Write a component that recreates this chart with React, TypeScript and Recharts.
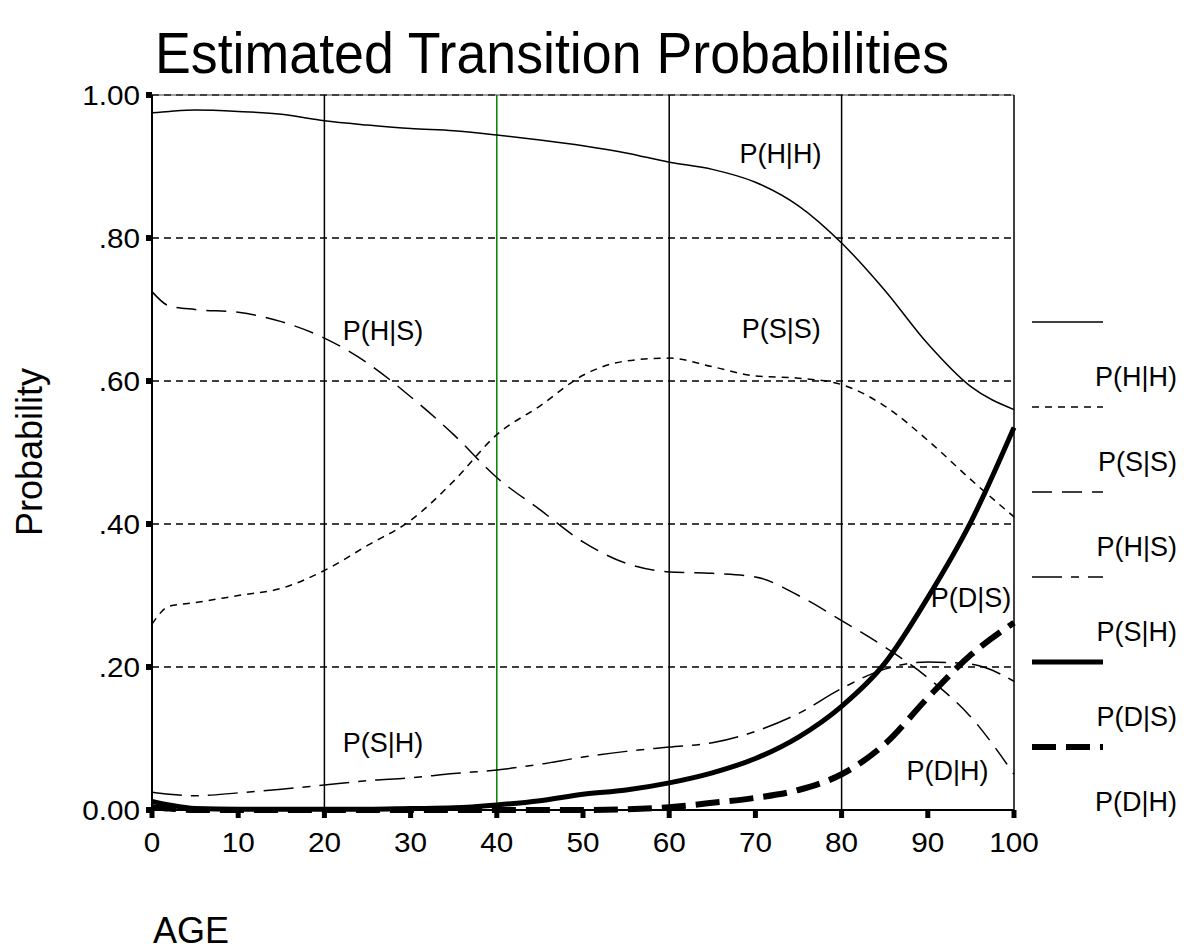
import React from 'react';
import {
  LineChart,
  Line,
  XAxis,
  YAxis,
  CartesianGrid,
  ReferenceLine,
  ReferenceDot,
  Legend,
  Customized,
} from 'recharts';

const FONT = '"Liberation Sans", Arial, Helvetica, sans-serif';

const AGES = [0, 2, 5, 10, 15, 20, 25, 30, 35, 40, 45, 50, 55, 60, 65, 70, 75, 80, 85, 90, 95, 100];

const P_HH = [0.975, 0.977, 0.979, 0.977, 0.973, 0.964, 0.958, 0.953, 0.95, 0.944, 0.937, 0.929, 0.919, 0.906, 0.896, 0.878, 0.845, 0.793, 0.727, 0.652, 0.592, 0.56];
const P_SS = [0.26, 0.285, 0.29, 0.3, 0.31, 0.335, 0.37, 0.405, 0.46, 0.525, 0.565, 0.608, 0.628, 0.632, 0.62, 0.607, 0.604, 0.595, 0.565, 0.517, 0.462, 0.41];
const P_HS = [0.725, 0.705, 0.7, 0.696, 0.683, 0.66, 0.625, 0.578, 0.525, 0.465, 0.42, 0.375, 0.345, 0.333, 0.331, 0.326, 0.3, 0.265, 0.228, 0.185, 0.13, 0.05];
const P_SH = [0.025, 0.022, 0.02, 0.024, 0.029, 0.035, 0.041, 0.045, 0.051, 0.056, 0.064, 0.074, 0.082, 0.088, 0.094, 0.11, 0.135, 0.17, 0.197, 0.207, 0.204, 0.18];
const P_DS = [0.012, 0.007, 0.002, 0.001, 0.001, 0.001, 0.001, 0.002, 0.003, 0.007, 0.013, 0.022, 0.028, 0.038, 0.052, 0.072, 0.102, 0.145, 0.205, 0.297, 0.403, 0.535];
const P_DH = [0.004, 0.002, 0.0, 0.0, 0.0, 0.0, 0.0, 0.0, 0.0, 0.0, 0.0, 0.0, 0.001, 0.004, 0.01, 0.017, 0.028, 0.05, 0.092, 0.157, 0.217, 0.262];

const SERIES_NAMES = ['P(H|H)', 'P(S|S)', 'P(H|S)', 'P(S|H)', 'P(D|S)', 'P(D|H)'];
const SERIES_VALUES = [P_HH, P_SS, P_HS, P_SH, P_DS, P_DH];

const X_TICKS = [0, 10, 20, 30, 40, 50, 60, 70, 80, 90, 100];
const Y_TICKS = [0, 0.2, 0.4, 0.6, 0.8, 1];
const Y_TICK_LABELS = ['0.00', '.20', '.40', '.60', '.80', '1.00'];

const VERTICAL_LINES = [20, 60, 80, 100];
const GREEN_LINE = 40;

const ANNOTATIONS = [
  { text: 'P(H|H)', age: 72.9, p: 0.919 },
  { text: 'P(H|S)', age: 26.8, p: 0.671 },
  { text: 'P(S|S)', age: 73.0, p: 0.673 },
  { text: 'P(D|S)', age: 95.0, p: 0.298 },
  { text: 'P(S|H)', age: 26.8, p: 0.095 },
  { text: 'P(D|H)', age: 92.3, p: 0.056 },
];

const STYLES: Record<string, { w: number; dash?: string }> = {
  'P(H|H)': { w: 1.5 },
  'P(S|S)': { w: 1.5, dash: '7 6' },
  'P(H|S)': { w: 1.5, dash: '20 10' },
  'P(S|H)': { w: 1.5, dash: '30 9 8 9' },
  'P(D|S)': { w: 5 },
  'P(D|H)': { w: 6, dash: '24 10' },
};

const STRETCH = 1.1;

const data = AGES.map((age, i) => {
  const row: Record<string, number> = { age };
  SERIES_NAMES.forEach((n, k) => {
    row[n] = SERIES_VALUES[k][i];
  });
  return row;
});

const YTick = (props: any) => {
  const { x, y, payload } = props;
  const idx = Y_TICKS.findIndex((t) => Math.abs(t - payload.value) < 1e-6);
  const label = idx >= 0 ? Y_TICK_LABELS[idx] : String(payload.value);
  return (
    <text
      x={x}
      y={y}
      dy="0.355em"
      textAnchor="end"
      fontSize={27}
      fontFamily={FONT}
      fill="#000"
      transform={`translate(${x} 0) scale(${STRETCH} 1) translate(${-x} 0)`}
    >
      {label}
    </text>
  );
};

const XTick = (props: any) => {
  const { x, y, payload } = props;
  return (
    <text
      x={x}
      y={y}
      dy="0.71em"
      textAnchor="middle"
      fontSize={27}
      fontFamily={FONT}
      fill="#000"
      transform={`translate(${x} 0) scale(${STRETCH} 1) translate(${-x} 0)`}
    >
      {payload.value}
    </text>
  );
};

const renderLegend = () => (
  <svg width={157} height={560} style={{ overflow: 'visible', display: 'block' }}>
    {SERIES_NAMES.map((n, i) => {
      const y = 22 + i * 85;
      const st = STYLES[n];
      return (
        <g key={n}>
          <line x1={0} x2={71} y1={y} y2={y} stroke="#000" strokeWidth={st.w} strokeDasharray={st.dash} />
          <text x={145} y={y + 64} textAnchor="end" fontSize={27} fontFamily={FONT} fill="#000">
            {n}
          </text>
        </g>
      );
    })}
  </svg>
);

const Titles = () => (
  <g>
    <text x={552} y={73} textAnchor="middle" fontSize={58} fontFamily={FONT} fill="#000" textLength={794} lengthAdjust="spacingAndGlyphs">
      Estimated Transition Probabilities
    </text>
    <text x={42} y={452} textAnchor="middle" fontSize={36} fontFamily={FONT} fill="#000" transform="rotate(-90 42 452)">
      Probability
    </text>
    <text x={153} y={943} textAnchor="start" fontSize={36} fontFamily={FONT} fill="#000">
      AGE
    </text>
  </g>
);

export default function App() {
  return (
    <div style={{ position: 'absolute', left: 0, top: 0, width: 1189, height: 952, background: '#fff' }}>
      <LineChart width={1189} height={952} data={data} margin={{ top: 95, right: 175, bottom: 82, left: 72 }}>
        <CartesianGrid horizontal vertical={false} stroke="#000" strokeWidth={1.5} strokeDasharray="7 5" />
        <ReferenceLine y={1} stroke="#444" strokeWidth={1} />
        {VERTICAL_LINES.map((v) => (
          <ReferenceLine key={v} x={v} stroke="#000" strokeWidth={1.5} />
        ))}
        <ReferenceLine x={GREEN_LINE} stroke="#008000" strokeWidth={1.5} />
        <XAxis
          dataKey="age"
          type="number"
          domain={[0, 100]}
          ticks={X_TICKS}
          height={60}
          axisLine={{ stroke: '#000', strokeWidth: 2 }}
          tickLine={{ stroke: '#000', strokeWidth: 5 }}
          tickSize={8}
          tickMargin={15}
          tick={<XTick />}
          interval={0}
        />
        <YAxis
          type="number"
          domain={[0, 1]}
          ticks={Y_TICKS}
          width={80}
          axisLine={{ stroke: '#000', strokeWidth: 2 }}
          tickLine={{ stroke: '#000', strokeWidth: 6 }}
          tickSize={6}
          tickMargin={6}
          tick={<YTick />}
          interval={0}
        />
        {SERIES_NAMES.map((n) => (
          <Line
            key={n}
            dataKey={n}
            name={n}
            type="monotone"
            stroke="#000"
            strokeWidth={STYLES[n].w}
            strokeDasharray={STYLES[n].dash}
            dot={false}
            activeDot={false}
            isAnimationActive={false}
          />
        ))}
        {ANNOTATIONS.map((a) => (
          <ReferenceDot
            key={a.text}
            x={a.age}
            y={a.p}
            r={0}
            fill="none"
            stroke="none"
            ifOverflow="visible"
            label={{ value: a.text, position: 'center', fill: '#000', fontSize: 27, fontFamily: FONT }}
          />
        ))}
        <Legend
          content={renderLegend}
          layout="vertical"
          align="right"
          verticalAlign="top"
          wrapperStyle={{ position: 'absolute', left: 1032, top: 300, width: 0, height: 0, overflow: 'visible' }}
        />
        <Customized component={Titles} />
      </LineChart>
    </div>
  );
}
